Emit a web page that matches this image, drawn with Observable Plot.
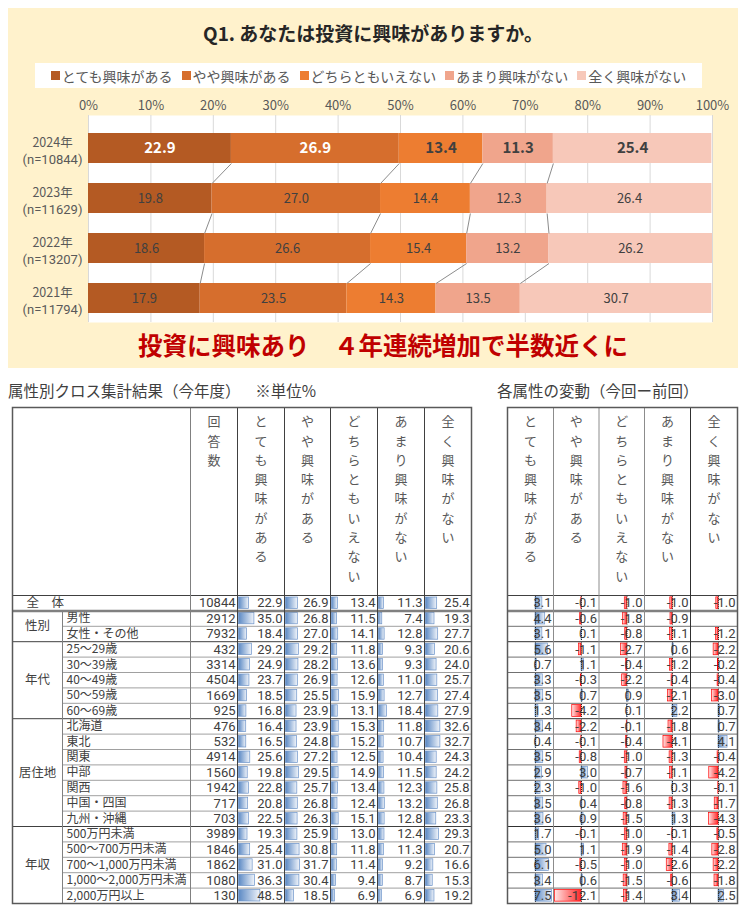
<!DOCTYPE html>
<html><head><meta charset="utf-8">
<script src="https://cdn.jsdelivr.net/npm/d3@7"></script>
<script src="https://cdn.jsdelivr.net/npm/@observablehq/plot@0.6"></script>
<style>
body{margin:0;background:#fff;font-family:"Noto Sans CJK JP","Noto Sans",sans-serif;}
#root{position:relative;width:745px;height:909px;overflow:hidden;background:#fff;}
#panel{position:absolute;left:8px;top:8px;width:730px;height:360px;background:#FFF2CC;}
#title{position:absolute;left:8px;width:730px;top:20px;text-align:center;font-weight:bold;font-size:19px;color:#262626;line-height:26px;}
#legendBox{position:absolute;left:35px;top:63px;width:667px;height:25px;background:#fff;display:flex;align-items:center;justify-content:center;}
#legendBox > div{font-family:"Noto Sans CJK JP",sans-serif !important;font-size:14px !important;color:#595959 !important;margin:0 !important;min-height:0 !important;}
#legendBox span{margin-right:9px !important;font-size:14px !important;color:#595959 !important;}
#legendBox span:last-child{margin-right:0 !important;}
#legendBox svg{margin-right:2px !important;}
#chart{position:absolute;left:8px;top:92px;}
#sub{position:absolute;left:8px;width:750px;top:328px;text-align:center;font-weight:bold;font-size:24.5px;color:#C00000;line-height:34px;}
#ltitle{position:absolute;left:8px;top:379px;font-size:15.5px;color:#404040;line-height:22px;white-space:pre;}
#rtitle{position:absolute;left:497px;top:379px;font-size:15.5px;color:#404040;line-height:22px;white-space:pre;}
#ltable{position:absolute;left:11px;top:406px;}
#rtable{position:absolute;left:506px;top:406px;}
</style></head>
<body><div id="root">
<div id="panel"></div>
<div id="title">Q1. あなたは投資に興味がありますか。</div>
<div id="legendBox"></div>
<div id="chart"></div>
<div id="sub">投資に興味あり　４年連続増加で半数近くに</div>
<div id="ltitle">属性別クロス集計結果（今年度）　  ※単位%</div>
<div id="rtitle">各属性の変動（今回ー前回）</div>
<div id="ltable"></div>
<div id="rtable"></div>
</div>
<script>
// ---------------- data ----------------
const years = ["2024年", "2023年", "2022年", "2021年"];
const sampleSizes = [10844, 11629, 13207, 11794];
const categories = ["とても興味がある", "やや興味がある", "どちらともいえない", "あまり興味がない", "全く興味がない"];
const veryInterested = [22.9, 19.8, 18.6, 17.9];
const somewhatInterested = [26.9, 27.0, 26.6, 23.5];
const neutral = [13.4, 14.4, 15.4, 14.3];
const notVeryInterested = [11.3, 12.3, 13.2, 13.5];
const notAtAllInterested = [25.4, 26.4, 26.2, 30.7];
const percentTicks = [0, 10, 20, 30, 40, 50, 60, 70, 80, 90, 100];

const attrGroups = ["全体", "性別", "性別", "年代", "年代", "年代", "年代", "年代", "居住地", "居住地", "居住地", "居住地", "居住地", "居住地", "居住地", "年収", "年収", "年収", "年収", "年収"];
const attrLabels = ["全　体", "男性", "女性・その他", "25～29歳", "30～39歳", "40～49歳", "50～59歳", "60～69歳", "北海道", "東北", "関東", "中部", "関西", "中国・四国", "九州・沖縄", "500万円未満", "500～700万円未満", "700～1,000万円未満", "1,000～2,000万円未満", "2,000万円以上"];
const respondents = [10844, 2912, 7932, 432, 3314, 4504, 1669, 925, 476, 532, 4914, 1560, 1942, 717, 703, 3989, 1846, 1862, 1080, 130];
const pctVery = [22.9, 35.0, 18.4, 29.2, 24.9, 23.7, 18.5, 16.8, 16.4, 16.5, 25.6, 19.8, 22.8, 20.8, 22.5, 19.3, 25.4, 31.0, 36.3, 48.5];
const pctSomewhat = [26.9, 26.8, 27.0, 29.2, 28.2, 26.9, 25.5, 23.9, 23.9, 24.8, 27.2, 29.5, 25.7, 26.8, 26.3, 25.9, 30.8, 31.7, 30.4, 18.5];
const pctNeutral = [13.4, 11.5, 14.1, 11.8, 13.6, 12.6, 15.9, 13.1, 15.3, 15.2, 12.5, 14.9, 13.4, 12.4, 15.1, 13.0, 11.8, 11.4, 9.4, 6.9];
const pctNotVery = [11.3, 7.4, 12.8, 9.3, 9.3, 11.0, 12.7, 18.4, 11.8, 10.7, 10.4, 11.5, 12.3, 13.2, 12.8, 12.4, 11.3, 9.2, 8.7, 6.9];
const pctNotAtAll = [25.4, 19.3, 27.7, 20.6, 24.0, 25.7, 27.4, 27.9, 32.6, 32.7, 24.3, 24.2, 25.8, 26.8, 23.3, 29.3, 20.7, 16.6, 15.3, 19.2];

const diffVery = [3.1, 4.4, 3.1, 5.6, 0.7, 3.3, 3.5, 1.3, 3.4, 0.4, 3.5, 2.9, 2.3, 3.5, 3.6, 1.7, 5.0, 6.1, 3.4, 7.5];
const diffSomewhat = [-0.1, -0.6, 0.1, -1.1, 1.1, -0.3, 0.7, -4.2, -2.2, -0.1, -0.8, 3.0, -1.0, 0.4, 0.9, -0.1, 1.1, -0.5, 0.6, -12.1];
const diffNeutral = [-1.0, -1.8, -0.8, -2.7, -0.4, -2.2, 0.9, 0.1, -0.1, -0.4, -1.0, -0.7, -1.6, -0.8, -1.5, -1.0, -1.9, -1.0, -1.5, -1.4];
const diffNotVery = [-1.0, -0.9, -1.1, 0.6, -1.2, -0.4, -2.1, 2.2, -1.8, -4.1, -1.3, -1.1, 0.3, -1.3, 1.3, -0.1, -1.4, -2.6, -0.6, 3.4];
const diffNotAtAll = [-1.0, null, -1.2, -2.2, -0.2, -0.4, -3.0, 0.7, 0.7, 4.1, -0.4, -4.2, -0.1, -1.7, -4.3, -0.5, -2.8, -2.2, -1.8, 2.5];

// ---------------- styles / layout ----------------
const FONT = '"Noto Sans CJK JP","Noto Sans",sans-serif';
const NUMFONT = 'Roboto, "Liberation Sans", sans-serif';
const colors = ["#B45A23", "#D66E2D", "#ED7D31", "#F0A58C", "#F7C8B9"];
const headerCount = "回答数";

// ---------------- top stacked bar chart ----------------
const series = [veryInterested, somewhatInterested, neutral, notVeryInterested, notAtAllInterested];
const segs = [];
const cums = years.map((y, i) => {
  let c = 0; const arr = [0];
  series.forEach((s, k) => { segs.push({i, k, cat: categories[k], x1: c, x2: c + s[i], v: s[i]}); c += s[i]; arr.push(c); });
  return arr;
});
const links = [];
for (let i = 0; i < years.length - 1; i++) for (let k = 1; k <= 4; k++)
  links.push({x1: cums[i][k], y1: i + 0.3, x2: cums[i + 1][k], y2: i + 1 - 0.3});
const yearRows = years.map((y, i) => ({i, year: y, n: `(n=${sampleSizes[i]})`}));

const chart = Plot.plot({
  width: 730, height: 232, marginTop: 23, marginBottom: 2, marginLeft: 80, marginRight: 26,
  style: {background: "transparent", fontFamily: FONT, fontSize: "13px", overflow: "visible"},
  x: {domain: [0, 100], axis: null},
  y: {domain: [-0.66, 3.48], reverse: true, axis: null},
  color: {domain: categories, range: colors},
  marks: [
    Plot.frame({fill: "white", stroke: "none"}),
    Plot.ruleX(percentTicks, {stroke: "#d9d9d9", strokeWidth: 1}),
    Plot.axisX(percentTicks, {anchor: "top", tickSize: 0, tickPadding: 6, tickFormat: d => d + "%", fontSize: 13, fill: "#595959", label: null}),
    Plot.rect(segs, {x1: "x1", x2: "x2", y1: d => d.i - 0.3, y2: d => d.i + 0.3, fill: "cat"}),
    Plot.link(links, {x1: "x1", y1: "y1", x2: "x2", y2: "y2", stroke: "#8c8c8c", strokeWidth: 1}),
    Plot.text(segs.filter(d => d.i === 0 && d.k < 2), {x: d => (d.x1 + d.x2) / 2, y: "i", text: d => d.v.toFixed(1), fill: "white", fontWeight: "bold", fontSize: 15}),
    Plot.text(segs.filter(d => d.i === 0 && d.k >= 2), {x: d => (d.x1 + d.x2) / 2, y: "i", text: d => d.v.toFixed(1), fill: "#404040", fontWeight: "bold", fontSize: 15}),
    Plot.text(segs.filter(d => d.i > 0), {x: d => (d.x1 + d.x2) / 2, y: "i", text: d => d.v.toFixed(1), fill: "#404040", fontSize: 13}),
    Plot.text(yearRows, {x: 0, y: "i", text: "year", dx: -36, dy: -6, textAnchor: "middle", fill: "#595959", fontSize: 12.5}),
    Plot.text(yearRows, {x: 0, y: "i", text: "n", dx: -36, dy: 11, textAnchor: "middle", fill: "#595959", fontSize: 13, fontFamily: NUMFONT})
  ]
});
document.getElementById("chart").appendChild(chart);

const legend = Plot.legend({color: {domain: categories, range: colors}, legend: "swatches", swatchSize: 9});
document.getElementById("legendBox").appendChild(legend);

// ---------------- tables ----------------
const vtext = s => [...s].join("\n");
const ROWS = attrLabels.length;
const HDR = 188 / 15.4;

function groupSpans() {
  const spans = [];
  attrGroups.forEach((g, r) => {
    if (r === 0) return;
    const last = spans[spans.length - 1];
    if (last && last.name === g) last.end = r + 1; else spans.push({name: g, start: r, end: r + 1});
  });
  return spans;
}
const spans = groupSpans();
const groupBounds = [1, ...spans.map(s => s.end)].filter(v => v < ROWS);
const innerBounds = d3.range(2, ROWS).filter(r => !groupBounds.includes(r));

function addGradients(svg, prefix) {
  const defs = d3.select(svg).insert("defs", ":first-child");
  const b = defs.append("linearGradient").attr("id", prefix + "Blue").attr("x1", 0).attr("x2", 1).attr("y1", 0).attr("y2", 0);
  b.append("stop").attr("offset", 0).attr("stop-color", "#5B89C4");
  b.append("stop").attr("offset", 1).attr("stop-color", "#F0F4FA");
  const r = defs.append("linearGradient").attr("id", prefix + "Red").attr("x1", 1).attr("x2", 0).attr("y1", 0).attr("y2", 0);
  r.append("stop").attr("offset", 0).attr("stop-color", "#FF2A2A");
  r.append("stop").attr("offset", 1).attr("stop-color", "#FFE6E6");
}

// left table layout (px within table)
const LW = 459;
const LD = [225, 272, 318, 365, 412, 459]; // data column edges
const pctSeries = [pctVery, pctSomewhat, pctNeutral, pctNotVery, pctNotAtAll];
const leftCells = [];
pctSeries.forEach((s, c) => s.forEach((v, r) => leftCells.push({c, r, v})));
const leftHeaders = categories.map((t, c) => ({x: (LD[c] + LD[c + 1]) / 2, t: vtext(t)}));
leftHeaders.unshift({x: (178 + 225) / 2, t: vtext(headerCount)});
const rowIdx = d3.range(ROWS);

const left = Plot.plot({
  width: 461, height: 498, marginTop: 1, marginBottom: 1, marginLeft: 1, marginRight: 1,
  style: {background: "white", fontFamily: FONT, fontSize: "13px", overflow: "visible"},
  x: {domain: [0, LW], axis: null},
  y: {domain: [-HDR, ROWS], reverse: true, axis: null},
  marks: [
    Plot.rect(leftCells, {x1: d => LD[d.c] + 1.5, x2: d => LD[d.c] + 1.5 + d.v * 0.44, y1: d => d.r + 0.13, y2: d => d.r + 0.87, fill: "url(#LBlue)", stroke: "#6C93C9", strokeWidth: 0.7}),
    Plot.text(leftCells, {x: d => LD[d.c + 1] - 2, y: d => d.r + 0.5, text: d => d.v.toFixed(1), textAnchor: "end", fill: "#404040", fontSize: 13, fontFamily: NUMFONT}),
    Plot.text(rowIdx, {x: 225 - 2, y: r => r + 0.5, text: r => String(respondents[r]), textAnchor: "end", fill: "#404040", fontSize: 13, fontFamily: NUMFONT}),
    Plot.text(rowIdx.slice(1), {x: 54, y: r => r + 0.5, text: r => attrLabels[r], textAnchor: "start", fill: "#404040", fontSize: 12}),
    Plot.text([0], {x: 14, y: 0.5, text: () => attrLabels[0], textAnchor: "start", fill: "#404040", fontSize: 12.5}),
    Plot.text(spans, {x: 25, y: d => (d.start + d.end) / 2, text: "name", textAnchor: "middle", fill: "#404040", fontSize: 12.5}),
    Plot.text(leftHeaders, {x: "x", y: -HDR, text: "t", lineAnchor: "top", dy: 5, lineHeight: 1.485, textAnchor: "middle", fill: "#595959", fontSize: 13}),
    // horizontal lines
    Plot.ruleY(innerBounds, {x1: 50, x2: LW, stroke: "#a0a0a0", strokeWidth: 1}),
    Plot.ruleY(groupBounds.filter(v => v > 1), {x1: 0, x2: LW, stroke: "#404040", strokeWidth: 1}),
    Plot.ruleY([1], {x1: 0, x2: LW, stroke: "#808080", strokeWidth: 2.5}),
    Plot.ruleY([0], {x1: 0, x2: LW, stroke: "#404040", strokeWidth: 1.2}),
    // vertical lines
    Plot.ruleX([50], {y1: 1, y2: ROWS, stroke: "#808080"}),
    Plot.ruleX([178], {y1: -HDR, y2: ROWS, stroke: "#808080"}),
    Plot.ruleX(LD.slice(0, 5), {y1: -HDR, y2: ROWS, stroke: "#404040"}),
    Plot.frame({stroke: "#595959", strokeWidth: 1.5})
  ]
});
addGradients(left, "L");
document.getElementById("ltable").appendChild(left);

// right table layout
const RW = 230;
const RD = [0, 46, 91.5, 137, 183, 230];
const AXIS_OFF = 28, DSCALE = 2.2;
const diffSeries = [diffVery, diffSomewhat, diffNeutral, diffNotVery, diffNotAtAll];
const rightCells = [];
diffSeries.forEach((s, c) => s.forEach((v, r) => { if (v != null) rightCells.push({c, r, v}); }));
const axisX = c => RD[c] + AXIS_OFF;
const rightHeaders = categories.map((t, c) => ({x: (RD[c] + RD[c + 1]) / 2, t: vtext(t)}));

const right = Plot.plot({
  width: 232, height: 498, marginTop: 1, marginBottom: 1, marginLeft: 1, marginRight: 1,
  style: {background: "white", fontFamily: FONT, fontSize: "13px", overflow: "visible"},
  x: {domain: [0, RW], axis: null},
  y: {domain: [-HDR, ROWS], reverse: true, axis: null},
  marks: [
    Plot.rect(rightCells.filter(d => d.v > 0), {x1: d => axisX(d.c), x2: d => axisX(d.c) + d.v * DSCALE, y1: d => d.r + 0.12, y2: d => d.r + 0.88, fill: "url(#RBlue)", stroke: "#6C93C9", strokeWidth: 0.7}),
    Plot.rect(rightCells.filter(d => d.v < 0), {x1: d => axisX(d.c) + d.v * DSCALE, x2: d => axisX(d.c), y1: d => d.r + 0.12, y2: d => d.r + 0.88, fill: "url(#RRed)", stroke: "#FF0000", strokeWidth: 0.7}),
    Plot.text(rightCells, {x: d => RD[d.c + 1] - 2, y: d => d.r + 0.5, text: d => d.v.toFixed(1), textAnchor: "end", fill: "#404040", fontSize: 13, fontFamily: NUMFONT}),
    Plot.ruleX(rightCells, {x: d => axisX(d.c), y1: d => d.r + 0.08, y2: d => d.r + 0.92, stroke: "#222", strokeWidth: 1, strokeDasharray: "1,1"}),
    Plot.text(rightHeaders, {x: "x", y: -HDR, text: "t", lineAnchor: "top", dy: 5, lineHeight: 1.485, textAnchor: "middle", fill: "#595959", fontSize: 13}),
    Plot.ruleY(innerBounds, {x1: 0, x2: RW, stroke: "#707070", strokeWidth: 1}),
    Plot.ruleY(groupBounds.filter(v => v > 1), {x1: 0, x2: RW, stroke: "#303030", strokeWidth: 1}),
    Plot.ruleY([1], {x1: 0, x2: RW, stroke: "#808080", strokeWidth: 2.5}),
    Plot.ruleY([0], {x1: 0, x2: RW, stroke: "#404040", strokeWidth: 1.2}),
    Plot.ruleX(RD.slice(1, 4), {y1: -HDR, y2: ROWS, stroke: "#8c8c8c"}),
    Plot.ruleX([RD[4]], {y1: -HDR, y2: ROWS, stroke: "#303030"}),
    Plot.frame({stroke: "#595959", strokeWidth: 1.5})
  ]
});
addGradients(right, "R");
document.getElementById("rtable").appendChild(right);
</script>
</body></html>
